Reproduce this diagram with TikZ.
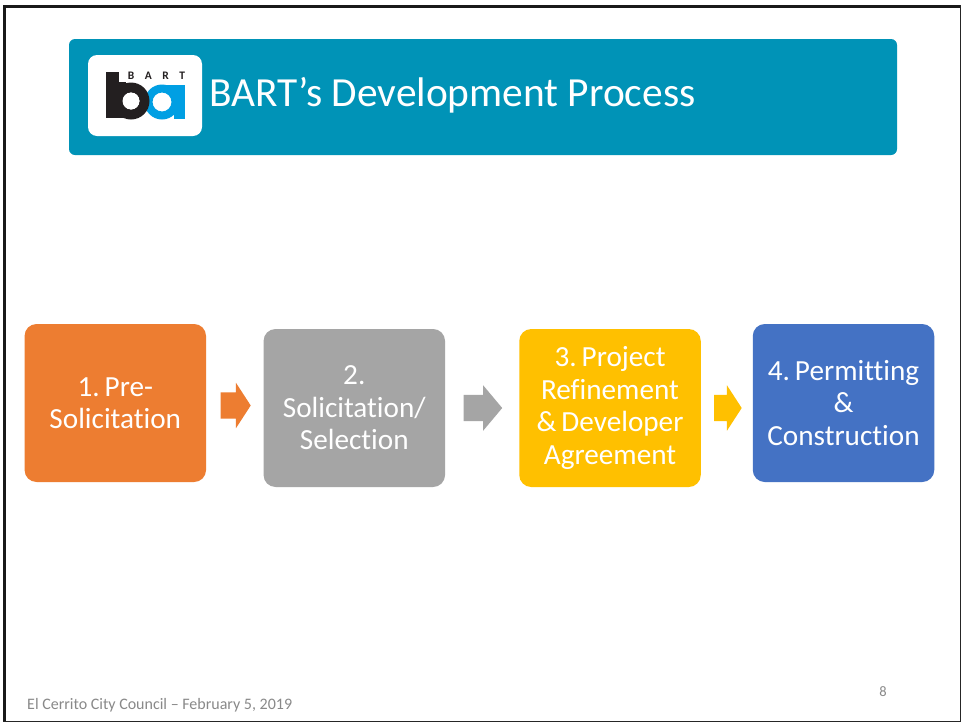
\documentclass[tikz,border=0pt]{standalone}
\usepackage{fontspec}
\setmainfont[Ligatures=NoCommon]{Carlito}
\usetikzlibrary{shapes.arrows}
\definecolor{bartteal}{HTML}{0093B7}
\definecolor{stepA}{HTML}{ED7D31}
\definecolor{stepB}{HTML}{A5A5A5}
\definecolor{stepC}{HTML}{FFC000}
\definecolor{stepD}{HTML}{4472C4}
\definecolor{logoblue}{HTML}{009FE3}
\definecolor{logoblack}{HTML}{231F20}
\definecolor{footgray}{HTML}{898989}
\frenchspacing
\newcommand{\wsp}{\hspace{5pt}}
\tikzset{
  stepbox/.style={fill=#1,rounded corners=12pt,minimum width=181.5pt,minimum height=158pt,inner sep=0pt,
    text=white,align=center,font=\fontsize{29.2}{32.4}\selectfont,text width=170pt},
  blockarrow/.style={single arrow,fill=#1,inner sep=0pt,anchor=west},
}
\begin{document}
\begin{tikzpicture}[x=1pt,y=-1pt]
\useasboundingbox (0,0) rectangle (961,723);
\fill[white] (0,0) rectangle (961,723);
% frame
\fill[black!90] (3,5) rectangle (961,7.5);
\fill[black!90] (3,5) rectangle (6,722);
\fill[black!85] (959.5,5) rectangle (961,722);
\fill[black!85] (3,720.8) rectangle (961,722);
% header
\fill[bartteal,rounded corners=6pt] (69,39) rectangle (897,155);
\fill[white,rounded corners=9pt] (88,55) rectangle (202,136);
% logo a
\fill[logoblue,even odd rule] (162,102) circle (17.5) (162,102) circle (9.5);
\fill[logoblue] (174,85) rectangle (185,119);
\fill[logoblue] (162,84.5) rectangle (185,90);
% logo b
\fill[logoblack,even odd rule] (131,101) circle (18.5) (131,101) circle (8.5);
\fill[logoblack] (105.5,71.5) rectangle (119,118);
\fill[logoblack] (119,82) rectangle (126,118);
\fill[white] (131,101) circle (8.5);
\node[font=\bfseries\fontsize{11.5}{12}\selectfont,text=logoblack,inner sep=0pt] (bartlabel) at (156.5,76) {B\hspace{10.5pt}A\hspace{10.5pt}R\hspace{10.5pt}T};
\node[anchor=west,text=white,inner sep=0pt,font=\fontsize{41.4}{48}\selectfont] (title) at (209,95.5) {BART’s Development Process};
% steps
\node[stepbox=stepA] (s1) at (115.3,403) {1.\wsp Pre-\\Solicitation};
\node[stepbox=stepB] (s2) at (354.3,408) {2.\\Solicitation/\\Selection};
\node[stepbox=stepC] (s3) at (610,408) {3.\wsp Project\\Refinement\\\&\wsp Developer\\Agreement};
\node[stepbox=stepD] (s4) at (843.5,403) {4.\wsp Permitting\\\&\\Construction};
% arrows
\node[blockarrow=stepA,minimum height=30pt,minimum width=45pt,inner ysep=13pt,single arrow head extend=9.5pt,single arrow tip angle=114] (a1) at (220.5,405.5) {};
\node[blockarrow=stepB,minimum height=38.5pt,minimum width=45pt,inner ysep=13pt,single arrow head extend=9.5pt,single arrow tip angle=100] (a2) at (463.5,408) {};
\node[blockarrow=stepC,minimum height=27.5pt,minimum width=45pt,inner ysep=13pt,single arrow head extend=9.5pt,single arrow tip angle=114] (a3) at (714,408) {};
% footer
\node[anchor=west,text=footgray,inner sep=0pt,font=\fontsize{16}{18}\selectfont] (foot) at (27,705) {El Cerrito City Council – February 5, 2019};
\node[text=footgray,inner sep=0pt,font=\fontsize{14.5}{16}\selectfont] (page) at (883,692) {8};
\end{tikzpicture}
\end{document}
